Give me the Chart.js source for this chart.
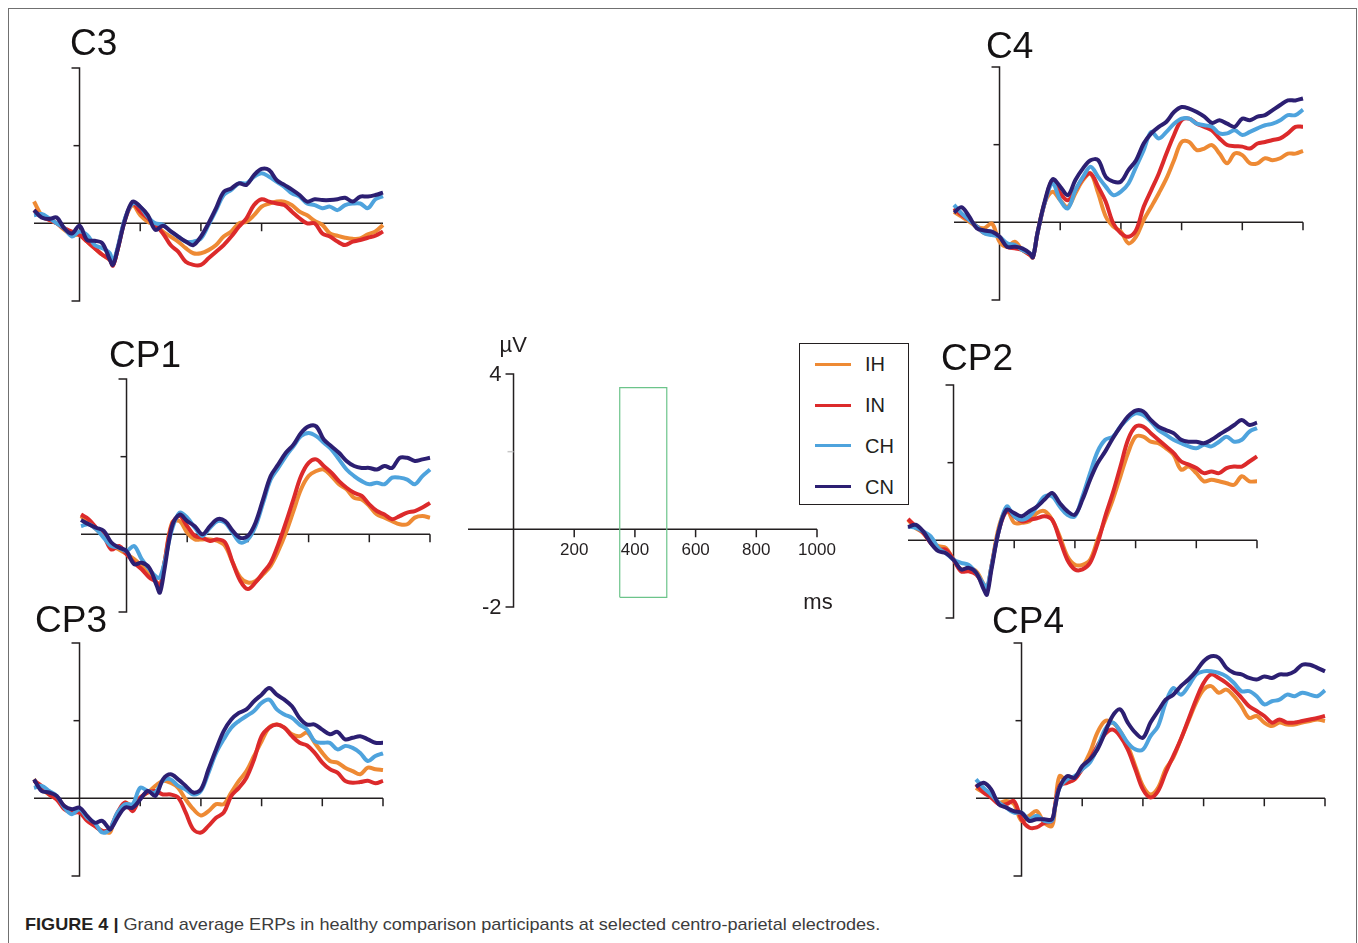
<!DOCTYPE html>
<html>
<head>
<meta charset="utf-8">
<title>Figure 4 - Grand average ERPs</title>
<script src="https://cdn.jsdelivr.net/npm/chart.js@4.4.1/dist/chart.umd.min.js"></script>
<style>
  html, body { margin: 0; padding: 0; background: #fff; }
  body { width: 1358px; height: 943px; position: relative; overflow: hidden;
         font-family: "Liberation Sans", Arial, Helvetica, sans-serif; color: #231f20; }
  .frame { position: absolute; left: 8px; top: 8px; width: 1347px; height: 960px; border: 1px solid #707070; }
  canvas { position: absolute; }
  .title { position: absolute; font-size: 37px; line-height: 37px; white-space: nowrap; color: #141213; }
  #legend { position: absolute; left: 799px; top: 343px; width: 108px; height: 160px; border: 1.5px solid #231f20; }
  .swatch { position: absolute; left: 15px; width: 36px; height: 3px; }
  .lab { position: absolute; left: 65px; font-size: 20px; line-height: 20px; }
  #caption { position: absolute; left: 25px; top: 916px; font-size: 17px; line-height: 17px;
             font-family: "Liberation Sans Narrow", "Liberation Sans", Arial, sans-serif;
             white-space: nowrap; color: #3c3c3c; transform-origin: 0 0; }
  #caption b { color: #231f20; }
</style>
</head>
<body>
<div class="frame"></div>
<div id="legend"></div>
<div id="caption"><b>FIGURE 4 |</b> Grand average ERPs in healthy comparison participants at selected centro-parietal electrodes.</div>

<script>
// time points (ms) shared by all traces
const times = [-150, -125, -100, -75, -50, -25, 0, 25, 50, 75, 100, 110, 125, 150, 175, 200, 225, 250, 275, 300,
  325, 350, 375, 400, 425, 450, 475, 500, 525, 550, 575, 600, 625, 650, 675, 700, 725, 750, 775, 800,
  825, 850, 875, 900, 925, 950, 975, 1000];

const seriesNames = ['IH', 'IN', 'CH', 'CN'];
const seriesColors = ['#ee8a34', '#dc2a2b', '#4ea3dd', '#2c1f72'];

const xTickValues = [200, 400, 600, 800, 1000];
const boxMs = [350, 505];
const boxUv = [-1.75, 3.65];

// C3
const c3IH = [0.56,0.21,0.09,0,-0.17,-0.30,-0.30,-0.47,-0.64,-0.81,-0.94,-1.07,-0.69,0.09,0.47,0.21,0.04,-0.04,-0.21,-0.34,-0.47,-0.64,-0.77,-0.77,-0.69,-0.56,-0.34,-0.21,0,0.04,0.21,0.43,0.51,0.56,0.56,0.47,0.30,0.21,0.06,-0.04,-0.26,-0.32,-0.37,-0.40,-0.39,-0.28,-0.21,-0.04];
const c3IN = [0.34,0.17,0.09,0,-0.13,-0.21,-0.30,-0.47,-0.64,-0.81,-0.94,-1.09,-0.69,0.11,0.51,0.30,0.13,-0.04,-0.26,-0.56,-0.73,-0.99,-1.07,-1.07,-0.90,-0.73,-0.56,-0.34,-0.09,0.13,0.47,0.62,0.56,0.51,0.47,0.30,0.13,0,0,-0.26,-0.34,-0.47,-0.56,-0.47,-0.43,-0.37,-0.32,-0.21];
const c3CH = [0.21,0.24,0.13,0,-0.13,-0.34,-0.21,-0.30,-0.56,-0.64,-0.77,-0.99,-0.64,0.13,0.51,0.43,0.17,0,-0.04,-0.21,-0.34,-0.47,-0.47,-0.39,-0.04,0.34,0.73,0.86,1.03,1.03,1.20,1.29,1.20,1.07,0.94,0.77,0.69,0.51,0.47,0.39,0.43,0.34,0.47,0.51,0.51,0.39,0.62,0.70];
const c3CN = [0.34,0.15,0.11,0.15,-0.13,-0.26,-0.06,-0.43,-0.45,-0.51,-0.94,-1.07,-0.69,0.09,0.56,0.43,0.21,-0.17,-0.06,-0.20,-0.34,-0.47,-0.56,-0.34,0,0.39,0.81,0.90,1.03,0.99,1.24,1.40,1.37,1.11,0.99,0.87,0.73,0.56,0.62,0.60,0.60,0.62,0.66,0.56,0.69,0.69,0.73,0.79];

// C4
const c4IH = [0.27,0.15,0.02,-0.11,-0.15,-0.03,-0.50,-0.63,-0.50,-0.71,-0.84,-0.90,-0.28,0.53,0.79,0.57,0.40,0.75,1.09,1.26,0.75,0.15,-0.11,-0.24,-0.54,-0.37,0.06,0.40,0.75,1.13,1.60,2.07,2.07,1.86,1.90,1.99,1.77,1.52,1.77,1.73,1.52,1.52,1.65,1.60,1.65,1.77,1.77,1.84];
const c4IN = [0.36,0.19,0.06,-0.11,-0.28,-0.28,-0.37,-0.63,-0.67,-0.71,-0.84,-0.90,-0.28,0.53,1.09,0.75,0.57,0.83,1.13,1.26,0.92,0.53,-0.03,-0.28,-0.37,-0.20,0.40,0.83,1.26,1.77,2.25,2.63,2.67,2.54,2.46,2.37,2.16,1.99,1.96,1.95,1.90,2.03,2.07,2.12,2.16,2.29,2.46,2.46];
const c4CH = [0.45,0.23,0.06,-0.11,-0.28,-0.33,-0.37,-0.54,-0.58,-0.71,-0.80,-0.88,-0.28,0.53,1.00,0.57,0.36,0.83,1.17,1.43,1.17,0.92,0.70,0.79,1.00,1.43,1.86,2.33,2.16,2.33,2.54,2.67,2.67,2.54,2.50,2.46,2.29,2.29,2.37,2.25,2.33,2.42,2.50,2.54,2.63,2.76,2.76,2.90];
const c4CN = [0.25,0.39,0.15,-0.15,-0.21,-0.24,-0.37,-0.63,-0.63,-0.67,-0.80,-0.90,-0.28,0.57,1.11,0.92,0.70,1.09,1.39,1.60,1.60,1.17,1.05,1.05,1.35,1.60,2.03,2.29,2.46,2.59,2.84,2.97,2.93,2.84,2.72,2.56,2.63,2.54,2.46,2.67,2.63,2.72,2.76,2.89,3.02,3.14,3.14,3.19];

// CP1
const cp1IH = [0.47,0.30,0.13,-0.04,-0.30,-0.39,-0.51,-0.64,-0.81,-0.99,-1.24,-1.33,-0.73,0.30,0.34,0.04,-0.13,-0.13,-0.13,-0.17,-0.30,-0.73,-1.11,-1.24,-1.20,-1.03,-0.81,-0.43,0.04,0.60,1.16,1.50,1.63,1.67,1.50,1.29,1.16,0.94,0.90,0.73,0.51,0.43,0.34,0.26,0.26,0.43,0.47,0.43];
const cp1IN = [0.51,0.39,0.17,-0.04,-0.39,-0.30,-0.51,-0.73,-0.90,-1.11,-1.24,-1.41,-0.73,0.26,0.47,0.21,-0.04,-0.09,-0.17,-0.13,-0.21,-0.73,-1.20,-1.41,-1.24,-0.99,-0.73,-0.26,0.30,0.90,1.50,1.84,1.93,1.76,1.59,1.37,1.20,1.07,0.99,0.77,0.60,0.51,0.39,0.47,0.56,0.60,0.69,0.81];
const cp1CH = [0.21,0.26,0.13,-0.09,-0.30,-0.34,-0.43,-0.30,-0.64,-0.90,-1.11,-1.11,-0.73,0.13,0.56,0.43,0.17,-0.04,0.17,0.34,0.30,0.04,-0.21,-0.13,0.21,0.81,1.41,1.71,2.01,2.27,2.53,2.61,2.53,2.36,2.19,1.93,1.67,1.50,1.37,1.29,1.33,1.29,1.46,1.46,1.41,1.29,1.50,1.67];
const cp1CN = [0.37,0.26,0.17,0.09,-0.21,-0.34,-0.43,-0.77,-0.73,-0.86,-1.33,-1.50,-0.90,0.21,0.51,0.34,0.21,0,0.21,0.39,0.34,0.09,-0.09,-0.04,0.30,0.90,1.50,1.80,2.10,2.31,2.61,2.78,2.78,2.44,2.27,2.10,1.89,1.76,1.71,1.71,1.67,1.76,1.71,1.97,1.97,1.89,1.93,1.97];

// CP2
const cp2IH = [0.53,0.32,0.19,-0.03,-0.15,-0.20,-0.50,-0.75,-0.71,-0.80,-1.14,-1.27,-0.67,0.36,0.79,0.45,0.45,0.49,0.70,0.75,0.53,0.10,-0.41,-0.63,-0.63,-0.50,0.02,0.53,1.05,1.65,2.25,2.67,2.67,2.54,2.50,2.37,2.20,1.82,1.90,1.73,1.52,1.56,1.52,1.47,1.43,1.65,1.52,1.52];
const cp2IN = [0.55,0.36,0.19,-0.07,-0.24,-0.24,-0.50,-0.80,-0.80,-0.88,-1.18,-1.31,-0.67,0.27,0.75,0.62,0.49,0.53,0.57,0.62,0.53,0.02,-0.50,-0.75,-0.75,-0.58,-0.07,0.62,1.22,1.90,2.59,2.93,2.93,2.76,2.59,2.42,2.25,2.03,1.95,1.86,1.73,1.77,1.73,1.86,1.90,1.90,2.03,2.16];
const cp2CH = [0.36,0.32,0.23,0.10,-0.20,-0.33,-0.50,-0.58,-0.63,-0.84,-1.14,-1.23,-0.67,0.27,0.87,0.62,0.53,0.62,0.87,1.13,1.13,0.87,0.66,0.62,1.13,1.73,2.29,2.59,2.67,2.93,3.14,3.27,3.23,3.06,2.84,2.72,2.59,2.50,2.42,2.37,2.46,2.42,2.54,2.67,2.54,2.59,2.80,2.89];
const cp2CN = [0.34,0.40,0.23,-0.07,-0.28,-0.33,-0.50,-0.75,-0.71,-0.84,-1.27,-1.40,-0.75,0.27,0.79,0.70,0.62,0.75,0.87,1.05,1.22,0.96,0.75,0.66,1.05,1.56,1.99,2.29,2.63,2.93,3.19,3.34,3.32,3.10,2.93,2.84,2.76,2.59,2.54,2.54,2.50,2.59,2.72,2.84,2.97,3.10,2.97,3.03];

// CP3
const cp3IH = [0.49,0.23,0.10,-0.03,-0.20,-0.37,-0.28,-0.54,-0.71,-0.84,-0.88,-0.67,-0.45,-0.11,-0.20,0.02,0.15,0.32,0.45,0.40,0.27,-0.03,-0.28,-0.44,-0.33,-0.15,-0.15,0.15,0.45,0.70,1.09,1.47,1.82,1.90,1.82,1.65,1.60,1.69,1.43,1.17,0.96,0.92,0.79,0.70,0.62,0.79,0.75,0.73];
const cp3IN = [0.45,0.32,0.10,-0.03,-0.28,-0.37,-0.37,-0.58,-0.71,-0.84,-0.80,-0.63,-0.37,-0.11,-0.33,0.02,0.15,0.19,0.10,0.10,0.02,-0.37,-0.80,-0.88,-0.71,-0.50,-0.37,0.06,0.27,0.53,1.00,1.60,1.82,1.90,1.82,1.60,1.43,1.36,1.17,0.92,0.75,0.66,0.45,0.40,0.42,0.45,0.39,0.45];
const cp3CH = [0.27,0.32,0.19,0.06,-0.24,-0.41,-0.28,-0.50,-0.63,-0.88,-0.80,-0.63,-0.37,-0.15,-0.15,0.27,0.19,0.15,0.45,0.49,0.32,0.23,0.10,0.19,0.66,1.17,1.52,1.82,1.99,2.12,2.25,2.46,2.54,2.29,2.16,2.07,1.90,1.77,1.47,1.43,1.43,1.26,1.35,1.30,1.17,0.96,1.09,1.16];
const cp3CN = [0.49,0.19,0.15,0.06,-0.20,-0.28,-0.24,-0.45,-0.63,-0.58,-0.80,-0.71,-0.50,-0.24,-0.24,-0.03,0.19,0.06,0.49,0.62,0.49,0.32,0.15,0.23,0.75,1.26,1.73,2.03,2.20,2.29,2.50,2.67,2.84,2.67,2.54,2.37,2.07,1.90,1.90,1.77,1.65,1.71,1.52,1.56,1.60,1.52,1.43,1.43];

// CP4
const cp4IH = [0.27,0.15,0.06,-0.11,-0.07,-0.15,-0.58,-0.45,-0.33,-0.63,-0.71,-0.28,0.57,0.45,0.49,0.79,1.17,1.69,1.99,1.95,1.73,1.35,0.83,0.32,0.10,0.27,0.75,1.05,1.52,1.99,2.46,2.80,2.89,2.72,2.80,2.63,2.37,2.07,2.12,1.95,1.86,1.95,1.90,1.90,1.95,1.99,2.03,1.99];
const cp4IN = [0.36,0.15,0.02,-0.15,-0.15,-0.07,-0.54,-0.75,-0.75,-0.63,-0.58,-0.20,0.32,0.40,0.49,0.75,1.00,1.35,1.65,1.77,1.60,1.26,0.75,0.23,0.02,0.19,0.66,1.09,1.52,2.03,2.54,2.97,3.19,3.10,2.97,2.80,2.59,2.37,2.25,2.12,1.95,2.03,1.95,1.95,1.99,2.03,2.07,2.12];
const cp4CH = [0.49,0.27,0.10,-0.11,-0.24,-0.37,-0.37,-0.54,-0.45,-0.58,-0.58,-0.24,0.27,0.49,0.57,0.75,0.92,1.30,1.77,1.95,1.73,1.43,1.26,1.26,1.60,1.86,2.46,2.84,2.67,2.89,3.19,3.27,3.27,3.23,3.14,2.97,2.76,2.76,2.63,2.42,2.50,2.54,2.67,2.63,2.72,2.67,2.63,2.78];
const cp4CN = [0.30,0.40,0.23,-0.15,-0.24,-0.33,-0.37,-0.58,-0.54,-0.54,-0.54,-0.24,0.27,0.57,0.53,0.83,1.00,1.26,1.69,2.12,2.29,1.95,1.69,1.56,1.95,2.25,2.54,2.67,2.89,3.06,3.27,3.53,3.66,3.62,3.36,3.23,3.19,3.10,3.06,3.14,3.10,3.19,3.19,3.27,3.44,3.44,3.36,3.27];

// page layout: where ms=0 / µV=0 sit for each panel, and where the title goes
const panels = [
  { title: 'C3',  x0: 80,     y0: 223.3, ticks: [200, 400, 600], traces: [c3IH, c3IN, c3CH, c3CN],     tx: 70,  tb: 55 },
  { title: 'C4',  x0: 1000,   y0: 222.3, ticks: xTickValues,     traces: [c4IH, c4IN, c4CH, c4CN],     tx: 986, tb: 58 },
  { title: 'CP1', x0: 126.7,  y0: 535,   ticks: xTickValues,     traces: [cp1IH, cp1IN, cp1CH, cp1CN], tx: 109, tb: 367 },
  { title: 'CP2', x0: 953.3,  y0: 540.7, ticks: xTickValues,     traces: [cp2IH, cp2IN, cp2CH, cp2CN], tx: 941, tb: 370 },
  { title: 'CP3', x0: 79.3,   y0: 799,   ticks: xTickValues,     traces: [cp3IH, cp3IN, cp3CH, cp3CN], tx: 35,  tb: 632 },
  { title: 'CP4', x0: 1021.7, y0: 799,   ticks: xTickValues,     traces: [cp4IH, cp4IN, cp4CH, cp4CN], tx: 992, tb: 633 }
];

const X_MIN = -150, X_MAX = 1000, Y_MIN = -2, Y_MAX = 4;
const KX = 0.3035, KY = 38.9;
const INK = '#231f20';
const FONT = '"Liberation Sans", Arial, Helvetica, sans-serif';

// bracket-style ERP axes, drawn under the traces
const erpAxes = {
  id: 'erpAxes',
  beforeDatasetsDraw(chart, args, o) {
    const { ctx, scales: { x, y } } = chart;
    const x0 = x.getPixelForValue(0), y0 = y.getPixelForValue(0);
    const yTop = y.getPixelForValue(Y_MAX), yBot = y.getPixelForValue(Y_MIN);
    ctx.save();
    ctx.strokeStyle = INK;
    ctx.lineWidth = 1.5;
    ctx.beginPath();
    ctx.moveTo(x0 - 8, yTop); ctx.lineTo(x0, yTop); ctx.lineTo(x0, yBot); ctx.lineTo(x0 - 8, yBot);
    ctx.moveTo(x.getPixelForValue(X_MIN), y0); ctx.lineTo(x.getPixelForValue(X_MAX), y0);
    o.ticks.forEach(t => {
      const px = x.getPixelForValue(t);
      ctx.moveTo(px, y0); ctx.lineTo(px, y0 + 8);
    });
    ctx.stroke();

    const ym = y.getPixelForValue(2);
    ctx.strokeStyle = o.midColor;
    ctx.beginPath(); ctx.moveTo(x0 - 6, ym); ctx.lineTo(x0, ym); ctx.stroke();

    if (o.labels) {
      ctx.fillStyle = INK;
      ctx.font = '17px ' + FONT;
      ctx.textAlign = 'center'; ctx.textBaseline = 'middle';
      o.ticks.forEach(t => ctx.fillText(String(t), x.getPixelForValue(t), y0 + 21));
      ctx.font = '22px ' + FONT;
      ctx.textAlign = 'right';
      ctx.fillText(String(Y_MAX), x0 - 12, yTop + 1);
      ctx.fillText(String(Y_MIN), x0 - 12, yBot + 1);
      ctx.textAlign = 'left';
      ctx.fillText('µV', x0 - 14, yTop - 28);
      ctx.textAlign = 'center';
      ctx.fillText('ms', x.getPixelForValue(X_MAX) + 1, yBot - 4);
    }
    ctx.restore();
  }
};

function addChart(x0, y0, pad, datasets, axesOpts) {
  const w = Math.round((X_MAX - X_MIN) * KX), h = Math.round((Y_MAX - Y_MIN) * KY);
  const cv = document.createElement('canvas');
  cv.width = w + pad.left + pad.right;
  cv.height = h + pad.top + pad.bottom;
  cv.style.left = Math.round(x0 + X_MIN * KX - pad.left) + 'px';
  cv.style.top = Math.round(y0 - Y_MAX * KY - pad.top) + 'px';
  document.body.appendChild(cv);
  return new Chart(cv, {
    type: 'line',
    data: { datasets },
    options: {
      responsive: false,
      animation: false,
      devicePixelRatio: 1,
      events: [],
      layout: { padding: pad },
      plugins: { legend: { display: false }, tooltip: { enabled: false }, erpAxes: axesOpts },
      scales: {
        x: { type: 'linear', min: X_MIN, max: X_MAX, display: false },
        y: { type: 'linear', min: Y_MIN, max: Y_MAX, display: false }
      }
    },
    plugins: [erpAxes]
  });
}

panels.forEach(p => {
  const datasets = p.traces.map((vals, i) => ({
    label: seriesNames[i],
    data: times.map((t, j) => ({ x: t, y: vals[j] })),
    borderColor: seriesColors[i],
    borderWidth: 4,
    pointRadius: 0,
    tension: 0.35,
    fill: false,
    clip: false,
    order: seriesNames.length - 1 - i
  }));
  const pad = { left: 14, right: 14, top: 14, bottom: 14 };
  addChart(p.x0, p.y0, pad, datasets, { ticks: p.ticks, midColor: INK, labels: false });

  const t = document.createElement('div');
  t.className = 'title';
  t.textContent = p.title;
  t.style.left = p.tx + 'px';
  t.style.top = (p.tb - 31.3) + 'px';
  document.body.appendChild(t);
});

// scale bar panel with the analysis window
const boxData = [
  { x: boxMs[0], y: boxUv[0] }, { x: boxMs[0], y: boxUv[1] },
  { x: boxMs[1], y: boxUv[1] }, { x: boxMs[1], y: boxUv[0] },
  { x: boxMs[0], y: boxUv[0] }
];
addChart(513.3, 530, { left: 60, right: 40, top: 50, bottom: 30 },
  [{ label: 'window', data: boxData, borderColor: '#6cc48a', borderWidth: 1.2, pointRadius: 0, tension: 0, fill: false }],
  { ticks: xTickValues, midColor: '#c8c8c8', labels: true });

// legend
const legend = document.getElementById('legend');
seriesNames.forEach((n, i) => {
  const cy = 20.2 + i * 40.8;
  const sw = document.createElement('div');
  sw.className = 'swatch';
  sw.style.top = (cy - 1.5) + 'px';
  sw.style.background = seriesColors[i];
  legend.appendChild(sw);
  const lb = document.createElement('div');
  lb.className = 'lab';
  lb.style.top = (cy - 10) + 'px';
  lb.textContent = n;
  legend.appendChild(lb);
});

// caption squeezed to the printed width
const cap = document.getElementById('caption');
cap.style.transform = 'scaleX(' + (855 / cap.scrollWidth) + ')';
</script>
</body>
</html>
